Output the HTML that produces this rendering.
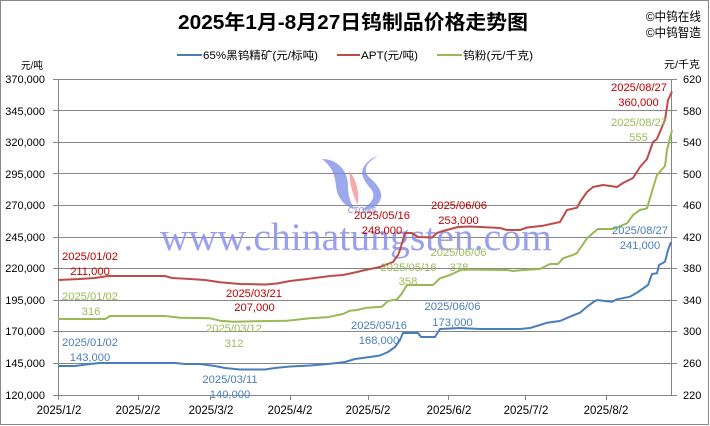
<!DOCTYPE html>
<html>
<head>
<meta charset="utf-8">
<style>
  html, body { margin:0; padding:0; background:#fff; }
  body { width:710px; height:426px; overflow:hidden; }
  svg { display:block; }
  text { font-family: "Liberation Sans", "Noto Sans CJK SC", sans-serif; }
</style>
</head>
<body>
<svg width="710" height="426" viewBox="0 0 710 426" xmlns="http://www.w3.org/2000/svg">
  <rect x="0" y="0" width="710" height="426" fill="#ffffff"/>
  <rect x="0.5" y="0.5" width="708" height="424" fill="none" stroke="#898989" stroke-width="1"/>

  <!-- Title -->
  <text x="178" y="29" font-size="20" font-weight="bold" fill="#000" textLength="350" lengthAdjust="spacingAndGlyphs">2025年1月-8月27日钨制品价格走势图</text>

  <!-- top right marks -->
  <text x="646" y="21" font-size="12.5" fill="#000" textLength="55" lengthAdjust="spacingAndGlyphs">©中钨在线</text>
  <text x="646" y="37" font-size="12.5" fill="#000" textLength="55" lengthAdjust="spacingAndGlyphs">©中钨智造</text>

  <!-- Legend -->
  <line x1="177" y1="55" x2="202" y2="55" stroke="#4A7EBB" stroke-width="2"/>
  <text x="203" y="59" font-size="11" fill="#000" textLength="115" lengthAdjust="spacingAndGlyphs">65%黑钨精矿(元/标吨)</text>
  <line x1="337" y1="55" x2="360" y2="55" stroke="#BE4B48" stroke-width="2"/>
  <text x="361" y="59" font-size="11" fill="#000" textLength="57" lengthAdjust="spacingAndGlyphs">APT(元/吨)</text>
  <line x1="437" y1="55" x2="462" y2="55" stroke="#98B954" stroke-width="2"/>
  <text x="463" y="59" font-size="11" fill="#000" textLength="70" lengthAdjust="spacingAndGlyphs">钨粉(元/千克)</text>

  <!-- axis unit labels -->
  <text x="21" y="69" font-size="10" fill="#000" textLength="22" lengthAdjust="spacingAndGlyphs">元/吨</text>
  <text x="664" y="68" font-size="10" fill="#000" textLength="36" lengthAdjust="spacingAndGlyphs">元/千克</text>

  <!-- Gridlines -->
  <g stroke="#868686" stroke-width="1">
    <line x1="53" y1="79.5" x2="677" y2="79.5"/>
    <line x1="53" y1="110.5" x2="677" y2="110.5"/>
    <line x1="53" y1="142.5" x2="677" y2="142.5"/>
    <line x1="53" y1="173.5" x2="677" y2="173.5"/>
    <line x1="53" y1="205.5" x2="677" y2="205.5"/>
    <line x1="53" y1="237.5" x2="677" y2="237.5"/>
    <line x1="53" y1="268.5" x2="677" y2="268.5"/>
    <line x1="53" y1="300.5" x2="677" y2="300.5"/>
    <line x1="53" y1="331.5" x2="677" y2="331.5"/>
    <line x1="53" y1="363.5" x2="677" y2="363.5"/>
    <line x1="53" y1="395.5" x2="677" y2="395.5"/>
    <line x1="58.5" y1="79" x2="58.5" y2="400"/>
    <line x1="671.5" y1="79" x2="671.5" y2="396"/>
    <!-- x ticks -->
    <line x1="138.5" y1="395" x2="138.5" y2="400"/>
    <line x1="210.5" y1="395" x2="210.5" y2="400"/>
    <line x1="290.5" y1="395" x2="290.5" y2="400"/>
    <line x1="368.5" y1="395" x2="368.5" y2="400"/>
    <line x1="448.5" y1="395" x2="448.5" y2="400"/>
    <line x1="525.5" y1="395" x2="525.5" y2="400"/>
    <line x1="606.5" y1="395" x2="606.5" y2="400"/>
  </g>

  <!-- Left axis labels -->
  <g font-size="11" fill="#000" text-anchor="end">
    <text x="45" y="83">370,000</text>
    <text x="45" y="115">345,000</text>
    <text x="45" y="146">320,000</text>
    <text x="45" y="178">295,000</text>
    <text x="45" y="209">270,000</text>
    <text x="45" y="241">245,000</text>
    <text x="45" y="272">220,000</text>
    <text x="45" y="304">195,000</text>
    <text x="45" y="335">170,000</text>
    <text x="45" y="367">145,000</text>
    <text x="45" y="399">120,000</text>
  </g>
  <!-- Right axis labels -->
  <g font-size="11" fill="#000" text-anchor="start">
    <text x="683" y="83">620</text>
    <text x="683" y="115">580</text>
    <text x="683" y="146">540</text>
    <text x="683" y="178">500</text>
    <text x="683" y="209">460</text>
    <text x="683" y="241">420</text>
    <text x="683" y="272">380</text>
    <text x="683" y="304">340</text>
    <text x="683" y="335">300</text>
    <text x="683" y="367">260</text>
    <text x="683" y="399">220</text>
  </g>
  <!-- X labels -->
  <g font-size="11.5" fill="#000" text-anchor="middle">
    <text x="59" y="414">2025/1/2</text>
    <text x="138" y="414">2025/2/2</text>
    <text x="211" y="414">2025/3/2</text>
    <text x="290" y="414">2025/4/2</text>
    <text x="368" y="414">2025/5/2</text>
    <text x="449" y="414">2025/6/2</text>
    <text x="526" y="414">2025/7/2</text>
    <text x="606" y="414">2025/8/2</text>
  </g>

  <!-- Watermark logo -->
  <g opacity="0.75">
    <path d="M322,159 C337,159 348,170 348,186 C348,197 351,204 355,209 C345,207 337,198 336,186 C335,174 331,166 322,159 Z" fill="#7d8ce6"/>
    <path d="M349,171 C357,180 359,192 358,205 C353,196 350,186 349,171 Z" fill="#f29090"/>
    <path d="M378,156 C366,162 362,171 370,178 C379,186 386,195 377,205 C372,209 366,210 361,210 C371,204 377,197 371,189 C363,180 359,172 365,165 C369,160 373,157 378,156 Z" fill="#7d8ce6"/>
    <text x="362" y="213" font-size="8" font-weight="bold" font-style="italic" fill="#7d8ce6" text-anchor="middle">CTOMS</text>
  </g>
  <!-- Watermark text -->
  <text x="160" y="250" style="font-family:'Liberation Serif', serif;" font-size="39" fill="#8a8fea" fill-opacity="0.85" textLength="392" lengthAdjust="spacingAndGlyphs">www.chinatungsten.com</text>

  <!-- Series lines -->
  <polyline fill="none" stroke="#4A7EBB" stroke-width="2" stroke-linejoin="round"
    points="58,366 75,366 90,364 100,363 120,363 150,363 175,363 185,364 200,364 215,366 225,368 240,369.5 265,369.5 275,368 290,366.5 310,365.5 328,364 345,362 355,359 370,357 380,355.5 388,352 395,347 400,340 403,333 418,333 421,337 435,337 440,329 460,328 480,329 520,329 530,328 540,325 547,322.7 560,321 570,316.7 580,312.7 587,306.7 593,302.3 597,300 605,301 612,301.7 617,299.3 630,296.7 638,292 648,285 652,274 657,273.3 659,265 665,261.7 668,250 671,242"/>
  <polyline fill="none" stroke="#BE4B48" stroke-width="2" stroke-linejoin="round"
    points="58,280 80,279 95,278 108,276 165,276 172,278 190,279 205,280 220,282.3 240,284 265,284.5 277,283.5 290,281 307,279 330,276 343,275 357,272 365,270 380,267 393,262 398,255 400,250 405,233 412,233 418,237 432,237.5 437,233 443,231 458,227 470,226.5 480,227 500,228 507,230 520,230 527,227.5 543,225.7 560,222 567,210 577,207.7 580,202 587,192 593,187 603,185 617,187 623,183 633,178 640,167 647,159 653,142 657,139 662,127 665,120 668,100 672,91.6"/>
  <polyline fill="none" stroke="#98B954" stroke-width="2" stroke-linejoin="round"
    points="58,319 105,319 110,316 165,316 180,317.7 210,318.3 220,320.7 233,321.7 287,320.7 310,318.3 327,317.3 343,314 350,310.7 357,310 367,307.7 382,306.7 388,301 397,299.3 402,293.3 407,285 433,285 440,278.3 450,275 457,271.7 462,269.5 507,270 513,271 523,270 540,269 550,264 558,264 563,258.3 573,255 577,253 587,238.3 593,233 598,229 613,229 627,223.3 633,215 640,210 647,208.3 653,188 657,175 665,166 667,150 672,130"/>

  <!-- Data labels -->
  <g font-size="11.2" text-anchor="middle">
    <!-- red -->
    <text x="90" y="260" fill="#C00000">2025/01/02</text>
    <text x="90" y="275" fill="#C00000">211,000</text>
    <text x="254" y="297" fill="#C00000">2025/03/21</text>
    <text x="254.5" y="311" fill="#C00000">207,000</text>
    <text x="382" y="219" fill="#C00000">2025/05/16</text>
    <text x="382" y="234" fill="#C00000">248,000</text>
    <text x="459" y="209" fill="#C00000">2025/06/06</text>
    <text x="458.5" y="224" fill="#C00000">253,000</text>
    <text x="639" y="91" fill="#C00000">2025/08/27</text>
    <text x="638.5" y="106" fill="#C00000">360,000</text>
    <!-- green -->
    <text x="90" y="300" fill="#9BBB59">2025/01/02</text>
    <text x="91" y="315" fill="#9BBB59">316</text>
    <text x="234" y="332" fill="#9BBB59">2025/03/12</text>
    <text x="234" y="347" fill="#9BBB59">312</text>
    <text x="408.5" y="271" fill="#9BBB59">2025/05/16</text>
    <text x="408" y="285" fill="#9BBB59">358</text>
    <text x="458.5" y="256" fill="#9BBB59">2025/06/06</text>
    <text x="459" y="271" fill="#9BBB59">378</text>
    <text x="639" y="126" fill="#9BBB59">2025/08/27</text>
    <text x="638.5" y="141" fill="#9BBB59">555</text>
    <!-- blue -->
    <text x="90" y="346" fill="#4A7EBB">2025/01/02</text>
    <text x="90" y="361" fill="#4A7EBB">143,000</text>
    <text x="230" y="383" fill="#4A7EBB">2025/03/11</text>
    <text x="230" y="398" fill="#4A7EBB">140,000</text>
    <text x="379" y="329" fill="#4A7EBB">2025/05/16</text>
    <text x="379" y="344" fill="#4A7EBB">168,000</text>
    <text x="452.5" y="310" fill="#4A7EBB">2025/06/06</text>
    <text x="452.5" y="326" fill="#4A7EBB">173,000</text>
    <text x="640" y="234" fill="#4A7EBB">2025/08/27</text>
    <text x="640" y="249" fill="#4A7EBB">241,000</text>
  </g>
</svg>
</body>
</html>
